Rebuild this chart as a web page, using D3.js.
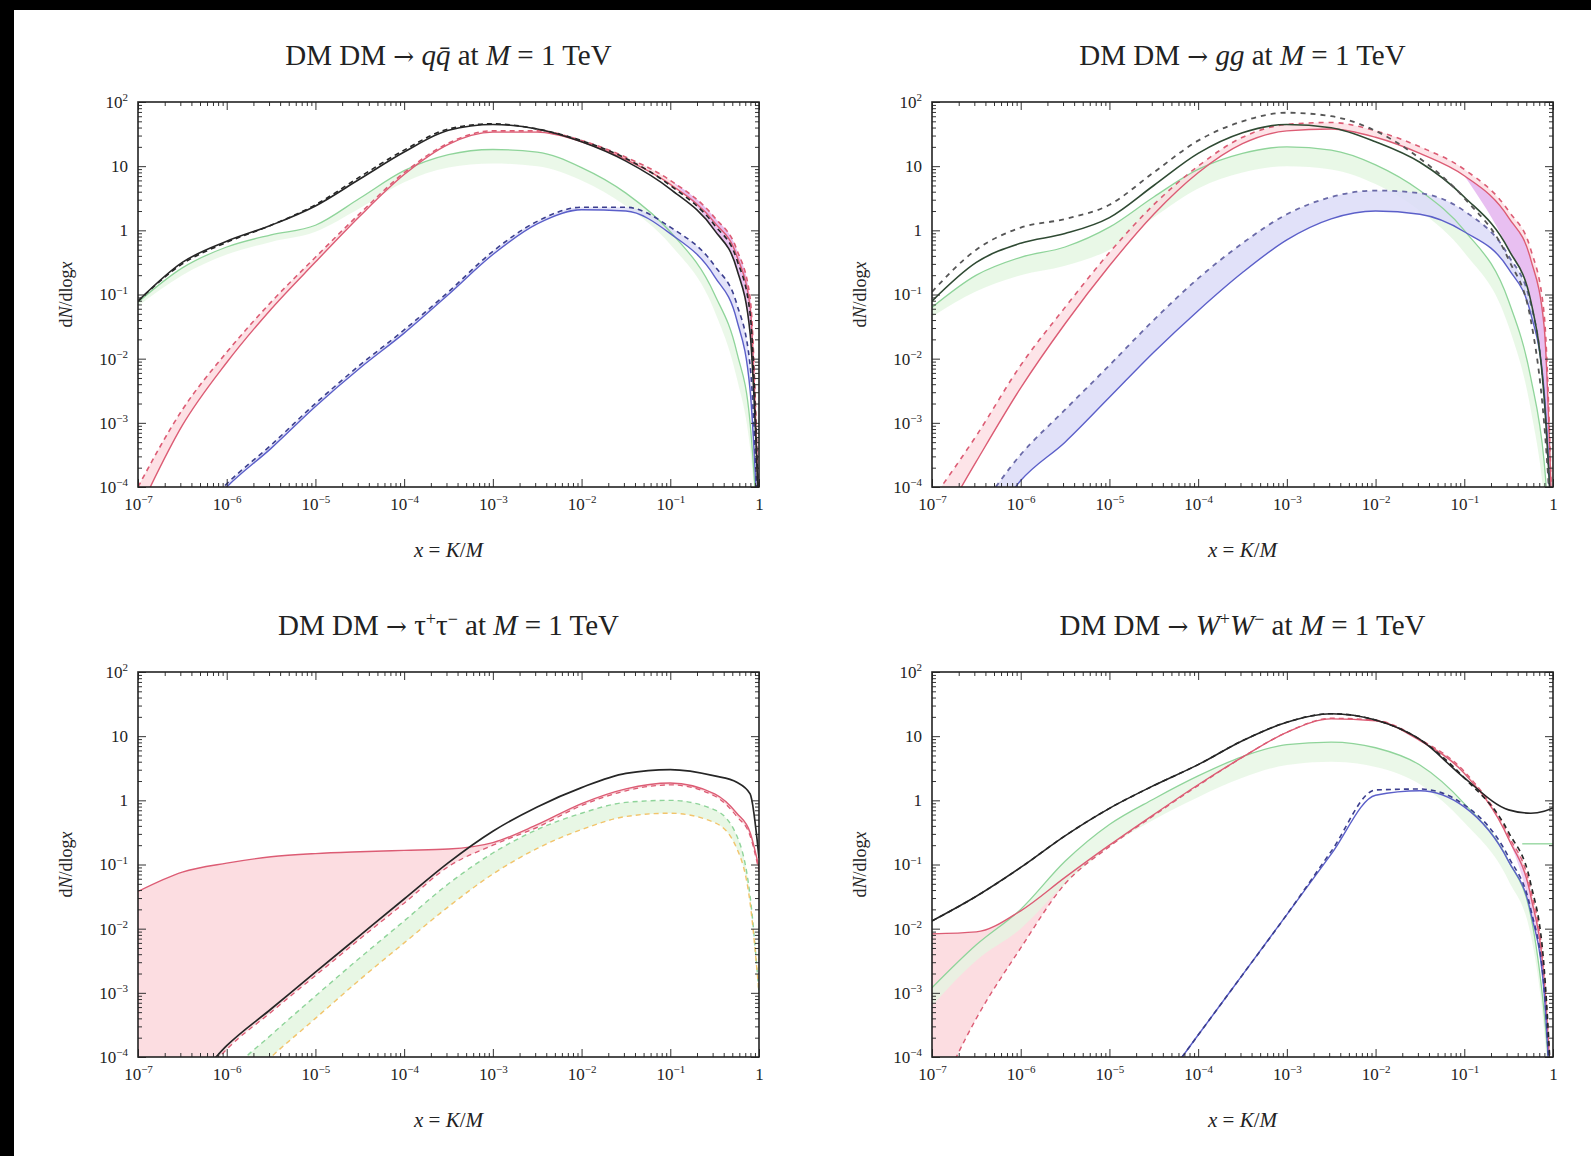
<!DOCTYPE html>
<html>
<head>
<meta charset="utf-8">
<script src="https://cdn.jsdelivr.net/npm/d3@7"></script>
<style>
  body { margin: 0; background: #fff; }
  svg { display: block; }
  text { font-family: "Liberation Serif", "Times New Roman", serif; fill: #222; }
</style>
</head>
<body>
<svg id="fig" width="1591" height="1156"></svg>
<script>
// ---- shared sampling grid in x = K/M and axis ticks ----
const xGrid = [1e-7, 3.16e-7, 1e-6, 3.16e-6, 1e-5, 3.16e-5, 1e-4, 3.16e-4, 1e-3, 3.16e-3,
               1e-2, 3.16e-2, 0.1, 0.316, 0.562, 0.794, 1];
const xTickValues = [1e-7, 1e-6, 1e-5, 1e-4, 1e-3, 1e-2, 1e-1, 1];
const yTickValues = [1e-4, 1e-3, 1e-2, 1e-1, 1, 10, 100];

// ---- DM DM -> q qbar ----
const qqBlack     = [0.079, 0.316, 0.676, 1.2, 2.4, 6.3, 16.6, 36.3, 44.7, 38, 24, 12, 4.4, 1.0, 0.25, 0.025, 3.2e-5];
const qqBlackDash = [0.079, 0.30, 0.65, 1.2, 2.5, 6.8, 17.8, 38, 45.7, 38, 25, 13.2, 5.0, 1.2, 0.35, 0.05, 3.2e-5];
const qqRed       = [4e-5, 9.1e-4, 8.7e-3, 0.059, 0.32, 1.66, 7.4, 21.9, 33.9, 33.9, 24, 12.6, 5.2, 1.32, 0.4, 0.063, 3.2e-5];
const qqRedDash   = [1e-4, 1.6e-3, 0.0126, 0.076, 0.38, 1.82, 7.9, 22.9, 35.5, 35.5, 25.1, 13.8, 6.0, 1.58, 0.5, 0.089, 3.2e-5];
const qqGreenHi   = [0.076, 0.26, 0.55, 0.85, 1.2, 3.16, 8.5, 15.1, 18.2, 16.6, 9.5, 3.8, 0.95, 0.1, 0.0126, 1e-3, 1e-5];
const qqGreenLo   = [0.066, 0.2, 0.42, 0.66, 0.95, 2.2, 5.6, 9.5, 11, 10, 6.0, 2.4, 0.6, 0.055, 5e-3, 4e-4, 1e-5];
const qqBlue      = [3.2e-6, 1.6e-5, 1e-4, 4e-4, 1.8e-3, 7.1e-3, 0.025, 0.1, 0.42, 1.26, 2.09, 2.0, 0.89, 0.19, 0.04, 3.2e-3, 1e-5];
const qqBlueDash  = [4e-6, 2e-5, 1.12e-4, 4.5e-4, 2e-3, 7.9e-3, 0.028, 0.11, 0.47, 1.38, 2.29, 2.29, 1.12, 0.28, 0.071, 7.9e-3, 1e-5];

// ---- DM DM -> g g ----
const ggBlack     = [0.079, 0.316, 0.63, 0.89, 1.58, 5.0, 15.8, 33.1, 44.7, 39.8, 24, 11.5, 3.31, 0.5, 0.079, 2.5e-3, 1e-5];
const ggBlackDash = [0.11, 0.5, 1.1, 1.5, 2.5, 8.0, 25, 50, 68, 60, 35.5, 13.2, 3.16, 0.35, 0.04, 1e-3, 1e-5];
const ggRed       = [1.6e-5, 2.5e-4, 3.5e-3, 0.035, 0.28, 1.78, 7.9, 22.4, 35.5, 38, 28.2, 15.8, 7.1, 1.58, 0.35, 0.032, 1e-5];
const ggRedDash   = [6.3e-5, 6.3e-4, 7.9e-3, 0.063, 0.45, 2.51, 10, 28.2, 44.7, 47.9, 35.5, 20, 8.9, 2.0, 0.5, 0.05, 1e-5];
const ggGreenHi   = [0.063, 0.2, 0.38, 0.55, 1.12, 3.31, 8.9, 15.8, 20, 17.8, 10.5, 4.17, 1.0, 0.079, 5e-3, 2.5e-4, 3.2e-6];
const ggGreenLo   = [0.045, 0.112, 0.2, 0.28, 0.5, 1.58, 4.47, 7.94, 10, 8.9, 5.25, 2.0, 0.45, 0.032, 1.6e-3, 6.3e-5, 1e-6];
const ggBlue      = [1.6e-6, 1.26e-5, 1.26e-4, 5e-4, 2.5e-3, 0.0126, 0.056, 0.22, 0.71, 1.51, 2.0, 1.78, 0.95, 0.25, 0.05, 3.2e-3, 1e-5];
const ggBlueDash  = [6.3e-6, 4e-5, 3.2e-4, 1.6e-3, 7.9e-3, 0.04, 0.178, 0.63, 1.78, 3.31, 4.17, 3.8, 2.0, 0.4, 0.071, 2.5e-3, 3.2e-6];

// ---- DM DM -> tau+ tau- ----
const ttBlack     = [6.3e-6, 2.5e-5, 1.5e-4, 5.6e-4, 2.1e-3, 7.8e-3, 0.029, 0.107, 0.33, 0.79, 1.58, 2.63, 3.02, 2.4, 1.91, 1.26, 0.126];
const ttRed       = [0.038, 0.076, 0.105, 0.132, 0.148, 0.158, 0.166, 0.174, 0.219, 0.417, 0.89, 1.51, 1.86, 1.26, 0.63, 0.316, 0.089];
const ttRedLo     = [2.5e-6, 2e-5, 1.32e-4, 5e-4, 1.86e-3, 6.9e-3, 0.025, 0.093, 0.2, 0.38, 0.83, 1.41, 1.74, 1.17, 0.56, 0.28, 0.079];
const ttGreenHi   = [1e-6, 5e-6, 5e-5, 2.2e-4, 8.9e-4, 3.5e-3, 0.0132, 0.05, 0.151, 0.35, 0.63, 0.93, 1.0, 0.71, 0.28, 0.032, 1e-3];
const ttGreenLo   = [4e-7, 2e-6, 2.2e-5, 1e-4, 4e-4, 1.6e-3, 6e-3, 0.022, 0.071, 0.178, 0.35, 0.56, 0.63, 0.45, 0.178, 0.025, 1e-3];

// ---- DM DM -> W+ W- ----
const wwBlack     = [0.0132, 0.032, 0.09, 0.28, 0.75, 1.7, 3.6, 8.5, 16.5, 22.4, 17.8, 8.9, 2.24, 0.71, 0.63, 0.676, 0.76];
const wwBlackDash = [0.0132, 0.032, 0.09, 0.28, 0.75, 1.7, 3.6, 8.5, 16.5, 22.4, 17.8, 8.9, 2.24, 0.316, 0.05, 2.5e-3, 1e-5];
const wwRed       = [8.3e-3, 8.9e-3, 0.019, 0.063, 0.2, 0.6, 1.75, 4.7, 11.5, 18.6, 17.4, 8.5, 2.63, 0.25, 0.032, 1.6e-3, 1e-5];
const wwRedLo     = [1.6e-5, 4e-4, 5e-3, 0.05, 0.19, 0.58, 1.7, 4.7, 11.5, 19, 17.8, 8.9, 2.82, 0.28, 0.04, 2e-3, 1e-5];
const wwGreenHi   = [1.2e-3, 5.6e-3, 0.02, 0.112, 0.42, 1.05, 2.4, 4.8, 7.4, 8.1, 6.6, 3.55, 0.89, 0.112, 0.0158, 5e-4, 1e-5];
const wwGreenLo   = [6.3e-4, 3.2e-3, 0.01, 0.05, 0.19, 0.5, 1.12, 2.24, 3.55, 3.98, 3.31, 1.78, 0.45, 0.056, 7.9e-3, 2.5e-4, 3.2e-6];
const wwBlue      = [3.2e-10, 3.2e-9, 3.2e-8, 3.2e-7, 3.2e-6, 2.5e-5, 2.2e-4, 1.9e-3, 0.0166, 0.145, 1.2, 1.41, 0.79, 0.112, 0.0178, 1e-3, 3.2e-6];
const wwBlueDash  = [3.2e-10, 3.2e-9, 3.2e-8, 3.2e-7, 3.2e-6, 2.5e-5, 2.2e-4, 1.9e-3, 0.0166, 0.16, 1.45, 1.5, 0.85, 0.13, 0.02, 1.2e-3, 3.2e-6];
const wwGreenTailX = [0.45, 1];
const wwGreenTail  = [0.21, 0.21];

// ---- drawing styles ----
const C = {
  black: "#262626",
  red: "#dc5c74", redFill: "#fcd9de",
  green: "#8fd49a", greenFill: "#e4f6e1",
  orange: "#f2c46b",
  blue: "#5b5fc9", blueFill: "#dcdcf8",
  purpleFill: "#e4b4ee"
};

const W = 621, H = 385;
const svg = d3.select("#fig");

// black strips along the top and left edges of the sheet
svg.append("rect").attr("x", 0).attr("y", 0).attr("width", 1591).attr("height", 10).attr("fill", "#000");
svg.append("rect").attr("x", 0).attr("y", 0).attr("width", 14).attr("height", 1156).attr("fill", "#000");

const pts = (ys, xs = xGrid) => ys.map((v, i) => ({ x: xs[i], y: v }));
// band between two series; with pinch the band closes to zero width at its first sample
const band = (lo, hi, from = 0, pinch = false) =>
  d3.range(from, xGrid.length).map(i => ({
    x: xGrid[i], lo: (pinch && i === from) ? hi[i] : lo[i], hi: hi[i]
  }));

function arrow(t) {
  t.append("tspan").attr("font-family", "DejaVu Serif").attr("font-size", "25px").text("→");
}

const panels = [
  {
    left: 138, top: 102,
    title: t => { t.append("tspan").text("DM DM ");
                  arrow(t);
                  t.append("tspan").text(" ");
                  t.append("tspan").attr("font-style", "italic").text("qq\u0304");
                  t.append("tspan").text(" at ");
                  t.append("tspan").attr("font-style", "italic").text("M");
                  t.append("tspan").text(" = 1 TeV"); },
    bands: [
      { d: band(qqGreenLo, qqGreenHi), fill: C.greenFill, op: 0.75 },
      { d: band(qqRed, qqRedDash), fill: C.redFill, op: 0.8 },
      { d: band(qqBlue, qqBlueDash), fill: C.blueFill, op: 0.8 },
      { d: band(qqBlack, qqRedDash, 12, true), fill: C.purpleFill, op: 0.8 }
    ],
    lines: [
      { d: pts(qqGreenHi), stroke: C.green, w: 1.3 },
      { d: pts(qqBlue), stroke: C.blue, w: 1.4 },
      { d: pts(qqBlueDash), stroke: "#3c3f8f", w: 1.6, dash: "5,4" },
      { d: pts(qqRed), stroke: C.red, w: 1.4 },
      { d: pts(qqRedDash), stroke: C.red, w: 1.6, dash: "5,4" },
      { d: pts(qqBlack), stroke: C.black, w: 1.6 },
      { d: pts(qqBlackDash), stroke: C.black, w: 1.6, dash: "5,4" }
    ]
  },
  {
    left: 932, top: 102,
    title: t => { t.append("tspan").text("DM DM ");
                  arrow(t);
                  t.append("tspan").text(" ");
                  t.append("tspan").attr("font-style", "italic").text("gg");
                  t.append("tspan").text(" at ");
                  t.append("tspan").attr("font-style", "italic").text("M");
                  t.append("tspan").text(" = 1 TeV"); },
    bands: [
      { d: band(ggGreenLo, ggGreenHi), fill: C.greenFill, op: 0.8 },
      { d: band(ggRed, ggRedDash), fill: C.redFill, op: 0.7 },
      { d: band(ggBlue, ggBlueDash), fill: C.blueFill, op: 0.85 },
      { d: band(ggBlack, ggRed, 12, true), fill: C.purpleFill, op: 0.85 }
    ],
    lines: [
      { d: pts(ggGreenHi), stroke: C.green, w: 1.3 },
      { d: pts(ggBlue), stroke: C.blue, w: 1.4 },
      { d: pts(ggBlueDash), stroke: "#6a6aa8", w: 1.8, dash: "5,5" },
      { d: pts(ggRed), stroke: C.red, w: 1.4 },
      { d: pts(ggRedDash), stroke: C.red, w: 1.6, dash: "5,5" },
      { d: pts(ggBlack), stroke: "#2f4a33", w: 1.6 },
      { d: pts(ggBlackDash), stroke: "#555", w: 1.8, dash: "5,5" }
    ]
  },
  {
    left: 138, top: 672,
    title: t => { t.append("tspan").text("DM DM ");
                  arrow(t);
                  t.append("tspan").text(" τ");
                  t.append("tspan").attr("font-size", "18px").attr("dy", "-10").text("+");
                  t.append("tspan").attr("dy", "10").text("τ");
                  t.append("tspan").attr("font-size", "18px").attr("dy", "-10").text("−");
                  t.append("tspan").attr("dy", "10").text(" at ");
                  t.append("tspan").attr("font-style", "italic").text("M");
                  t.append("tspan").text(" = 1 TeV"); },
    bands: [
      { d: band(ttRedLo, ttRed), fill: C.redFill, op: 0.9 },
      { d: band(ttGreenLo, ttGreenHi), fill: C.greenFill, op: 0.85 }
    ],
    lines: [
      { d: pts(ttGreenHi), stroke: C.green, w: 1.4, dash: "5,4" },
      { d: pts(ttGreenLo), stroke: C.orange, w: 1.4, dash: "5,4" },
      { d: pts(ttRedLo), stroke: C.red, w: 1.3, dash: "5,4" },
      { d: pts(ttRed), stroke: C.red, w: 1.4 },
      { d: pts(ttBlack), stroke: C.black, w: 1.7 }
    ]
  },
  {
    left: 932, top: 672,
    title: t => { t.append("tspan").text("DM DM ");
                  arrow(t);
                  t.append("tspan").text(" ");
                  t.append("tspan").attr("font-style", "italic").text("W");
                  t.append("tspan").attr("font-size", "18px").attr("dy", "-10").text("+");
                  t.append("tspan").attr("dy", "10").attr("font-style", "italic").text("W");
                  t.append("tspan").attr("font-size", "18px").attr("dy", "-10").text("−");
                  t.append("tspan").attr("dy", "10").text(" at ");
                  t.append("tspan").attr("font-style", "italic").text("M");
                  t.append("tspan").text(" = 1 TeV"); },
    bands: [
      { d: band(wwRedLo, wwRed), fill: C.redFill, op: 0.9 },
      { d: band(wwGreenLo, wwGreenHi), fill: C.greenFill, op: 0.75 },
      { d: band(wwBlue, wwRed, 13, true), fill: C.purpleFill, op: 0.6 }
    ],
    lines: [
      { d: pts(wwGreenHi), stroke: C.green, w: 1.3 },
      { d: pts(wwGreenTail, wwGreenTailX), stroke: C.green, w: 1.3 },
      { d: pts(wwRedLo), stroke: C.red, w: 1.4, dash: "5,4" },
      { d: pts(wwRed), stroke: C.red, w: 1.4 },
      { d: pts(wwBlue), stroke: C.blue, w: 1.4 },
      { d: pts(wwBlueDash), stroke: "#3c3f8f", w: 1.6, dash: "5,4" },
      { d: pts(wwBlack), stroke: C.black, w: 1.6 },
      { d: pts(wwBlackDash), stroke: C.black, w: 1.6, dash: "5,4" }
    ]
  }
];

// minor tick positions (2..9 within every decade)
const minorBetween = (lo, hi) => {
  const out = [];
  for (let e = lo; e < hi; e++) for (let k = 2; k <= 9; k++) out.push(k * Math.pow(10, e));
  return out;
};
const xMinor = minorBetween(-7, 0);
const yMinor = minorBetween(-4, 2);

function powerLabel(sel) {
  sel.each(function (v) {
    const t = d3.select(this);
    const e = Math.round(Math.log10(v));
    t.text(null);
    if (e === 0) { t.append("tspan").text("1"); return; }
    t.append("tspan").text("10");
    if (e !== 1) {
      t.append("tspan").attr("font-size", "11px").attr("dy", "-0.6em")
        .text(e < 0 ? "−" + (-e) : String(e));
    }
  });
}

panels.forEach((p, pi) => {
  const g = svg.append("g").attr("transform", `translate(${p.left},${p.top})`);
  const x = d3.scaleLog().domain([1e-7, 1]).range([0, W]);
  const y = d3.scaleLog().domain([1e-4, 100]).range([H, 0]);

  const clipId = "clip" + pi;
  g.append("clipPath").attr("id", clipId).append("rect").attr("width", W).attr("height", H);
  const plot = g.append("g").attr("clip-path", `url(#${clipId})`);

  const area = d3.area().curve(d3.curveMonotoneX)
    .x(d => x(d.x)).y0(d => y(d.lo)).y1(d => y(d.hi));
  const line = d3.line().curve(d3.curveMonotoneX)
    .x(d => x(d.x)).y(d => y(d.y));

  p.bands.forEach(b => plot.append("path").attr("d", area(b.d))
    .attr("fill", b.fill).attr("fill-opacity", b.op).attr("stroke", "none"));
  p.lines.forEach(l => plot.append("path").attr("d", line(l.d))
    .attr("fill", "none").attr("stroke", l.stroke).attr("stroke-width", l.w)
    .attr("stroke-dasharray", l.dash || null).attr("stroke-linejoin", "round"));

  // axes: inward ticks on all four sides, labels on bottom and left
  const styleAxis = a => { a.select(".domain").remove(); a.selectAll("line").attr("stroke", "#333"); };
  const bottom = g.append("g").attr("transform", `translate(0,${H})`)
    .call(d3.axisBottom(x).tickValues(xTickValues).tickSize(-8).tickPadding(11));
  bottom.call(styleAxis);
  bottom.selectAll("text").attr("font-size", "17px").attr("font-family", "Liberation Serif").call(powerLabel);
  g.append("g").attr("transform", `translate(0,${H})`)
    .call(d3.axisBottom(x).tickValues(xMinor).tickSize(-4).tickFormat("")).call(styleAxis);
  g.append("g").call(d3.axisTop(x).tickValues(xTickValues).tickSize(-8).tickFormat("")).call(styleAxis);
  g.append("g").call(d3.axisTop(x).tickValues(xMinor).tickSize(-4).tickFormat("")).call(styleAxis);

  const leftAx = g.append("g").call(d3.axisLeft(y).tickValues(yTickValues).tickSize(-8).tickPadding(10));
  leftAx.call(styleAxis);
  leftAx.selectAll("text").attr("font-size", "17px").attr("font-family", "Liberation Serif").call(powerLabel);
  g.append("g").call(d3.axisLeft(y).tickValues(yMinor).tickSize(-4).tickFormat("")).call(styleAxis);
  g.append("g").attr("transform", `translate(${W},0)`)
    .call(d3.axisRight(y).tickValues(yTickValues).tickSize(-8).tickFormat("")).call(styleAxis);
  g.append("g").attr("transform", `translate(${W},0)`)
    .call(d3.axisRight(y).tickValues(yMinor).tickSize(-4).tickFormat("")).call(styleAxis);

  g.append("rect").attr("width", W).attr("height", H)
    .attr("fill", "none").attr("stroke", "#222").attr("stroke-width", 1.6);

  // title
  const title = g.append("text").attr("x", W / 2).attr("y", -37)
    .attr("text-anchor", "middle").attr("font-size", "29px");
  p.title(title);

  // x label
  const xl = g.append("text").attr("x", W / 2).attr("y", H + 70)
    .attr("text-anchor", "middle").attr("font-size", "21px");
  xl.append("tspan").attr("font-style", "italic").text("x");
  xl.append("tspan").text(" = ");
  xl.append("tspan").attr("font-style", "italic").text("K");
  xl.append("tspan").text("/");
  xl.append("tspan").attr("font-style", "italic").text("M");

  // y label
  const yl = g.append("text").attr("transform", `translate(-66,${H / 2}) rotate(-90)`)
    .attr("text-anchor", "middle").attr("font-size", "18px");
  yl.append("tspan").text("d");
  yl.append("tspan").attr("font-style", "italic").text("N");
  yl.append("tspan").text("/dlog");
  yl.append("tspan").attr("font-style", "italic").text("x");
});
</script>
</body>
</html>
